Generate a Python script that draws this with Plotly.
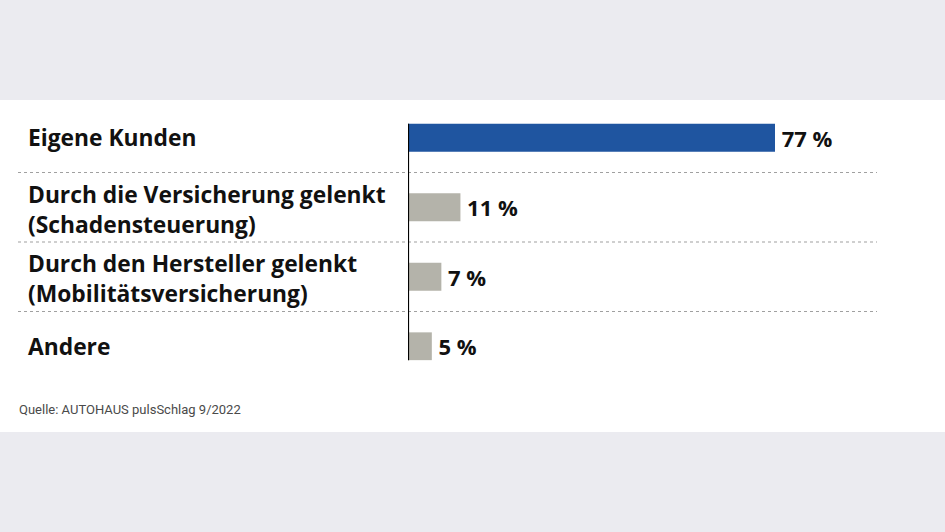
import plotly.graph_objects as go

categories = [
    "Eigene Kunden",
    "Durch die Versicherung gelenkt<br>(Schadensteuerung)",
    "Durch den Hersteller gelenkt<br>(Mobilitätsversicherung)",
    "Andere",
]
shares = [77, 11, 7, 5]
bar_colors = ["#1f55a0", "#b4b3aa", "#b4b3aa", "#b4b3aa"]
source_text = "Quelle: AUTOHAUS pulsSchlag 9/2022"

W, H = 945, 532
ML, MR, MT, MB = 408, 68, 103, 151
plot_w = W - ML - MR
plot_h = H - MT - MB
bar_w = 0.4


def px_x(px):
    # pixel column -> paper x
    return (px - ML) / plot_w


def px_y(py):
    # pixel row -> paper y
    return (H - MB - py) / plot_h


fig = go.Figure(go.Bar(
    y=list(range(len(categories))),
    x=shares,
    orientation="h",
    width=bar_w,
    marker=dict(color=bar_colors, line=dict(width=0)),
    texttemplate="\u2009<b>%{x} %</b>",
    textposition="outside",
    constraintext="none",
    textfont=dict(family="Open Sans", size=22, color="#111111"),
    cliponaxis=False,
    hoverinfo="skip",
))

shapes = [
    # grey page background with white band
    dict(type="rect", xref="paper", yref="paper", x0=px_x(-5), x1=px_x(W + 5),
         y0=px_y(-5), y1=px_y(H + 5), fillcolor="#ebebf0", line_width=0, layer="below"),
    dict(type="rect", xref="paper", yref="paper", x0=px_x(-5), x1=px_x(W + 5),
         y0=px_y(432), y1=px_y(100), fillcolor="white", line_width=0, layer="below"),
]
# dotted separators between rows
for i in range(len(categories) - 1):
    shapes.append(dict(type="line", xref="paper", yref="y",
                       x0=px_x(18), x1=px_x(877), y0=i + 0.5, y1=i + 0.5,
                       line=dict(color="#a0a0a0", width=1.1, dash="dot")))
# vertical baseline
shapes.append(dict(type="line", xref="x", yref="y", x0=0, x1=0,
                   y0=-bar_w / 2, y1=len(categories) - 1 + bar_w / 2,
                   line=dict(color="black", width=2.2)))

annotations = []
for i, label in enumerate(categories):
    annotations.append(dict(
        x=px_x(26), xref="paper", y=i, yref="y",
        text="<b>" + label + "</b>", showarrow=False,
        xanchor="left", yanchor="middle", align="left",
        yshift=-2 if "<br>" in label else 0,
        font=dict(family="Open Sans", size=22.8, color="#111111"),
    ))
annotations.append(dict(
    x=px_x(17), xref="paper", y=px_y(409), yref="paper",
    text=source_text, showarrow=False, xanchor="left", yanchor="middle",
    font=dict(family="Roboto, sans-serif", size=13, color="#4a4a4a"),
))

fig.update_layout(
    width=W, height=H,
    margin=dict(l=ML, r=MR, t=MT, b=MB),
    paper_bgcolor="white", plot_bgcolor="rgba(0,0,0,0)",
    showlegend=False,
    xaxis=dict(range=[0, plot_w / ((775 - 408) / 77)], visible=False, fixedrange=True),
    yaxis=dict(range=[len(categories) - 0.5, -0.5], visible=False, fixedrange=True),
    shapes=shapes,
    annotations=annotations,
)

fig.write_html("out.html", config={"displayModeBar": False},
               post_script="document.body.style.margin='0';")
